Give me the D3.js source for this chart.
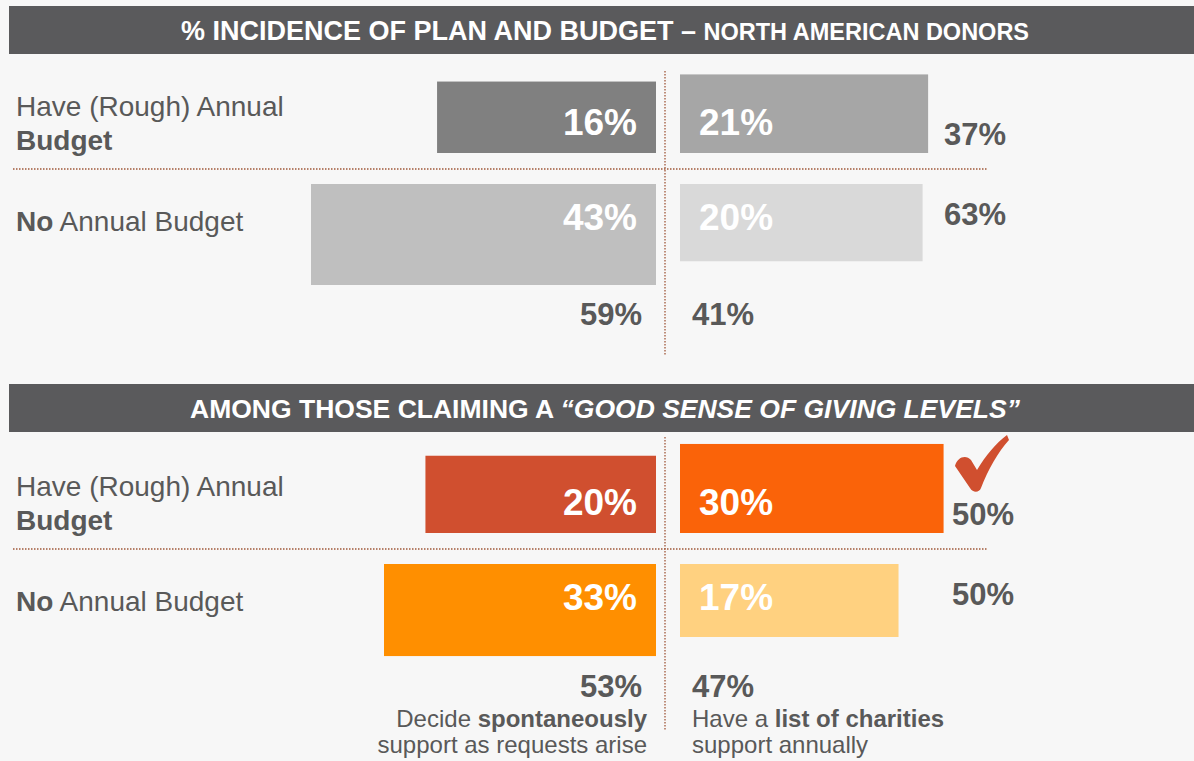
<!DOCTYPE html>
<html>
<head>
<meta charset="utf-8">
<script src="https://cdn.jsdelivr.net/npm/d3@7"></script>
<style>
  html, body { margin: 0; padding: 0; background: #f7f7f7; }
  svg { display: block; font-family: "Liberation Sans", Arial, sans-serif; }
</style>
</head>
<body>
<svg id="chart" width="1194" height="761"></svg>
<script>
// Rows: [Have (Rough) Annual Budget, No Annual Budget]
// Left column = decide spontaneously, right column = list of charities
const allSpontaneous = [16, 43];
const allList = [21, 20];
const goodSenseSpontaneous = [20, 33];
const goodSenseList = [30, 17];

const greyLeftColors = ["#808080", "#bfbfbf"];
const greyRightColors = ["#a6a6a6", "#d9d9d9"];
const orangeLeftColors = ["#d04f2f", "#ff8f00"];
const orangeRightColors = ["#fa6309", "#ffd180"];

const panels = [
  {
    titleParts: [
      { text: "% INCIDENCE OF PLAN AND BUDGET – ", size: 27, italic: false },
      { text: "NORTH AMERICAN DONORS", size: 23.5, italic: false }
    ],
    headerY: 6, sepY: 169, vTop: 71, vBottom: 356,
    left: allSpontaneous, right: allList,
    leftColors: greyLeftColors, rightColors: greyRightColors,
    widthExp: 0.46, widthMax: 345,
    rowTotalX: 944, colTotalY: 325, check: false
  },
  {
    titleParts: [
      { text: "AMONG THOSE CLAIMING A ", size: 26.5, italic: false },
      { text: "“GOOD SENSE OF GIVING LEVELS”", size: 26.5, italic: true }
    ],
    headerY: 384, sepY: 549, vTop: 437, vBottom: 730,
    left: goodSenseSpontaneous, right: goodSenseList,
    leftColors: orangeLeftColors, rightColors: orangeRightColors,
    widthExp: 0.33, widthMax: 272,
    rowTotalX: 952, colTotalY: 697, check: true
  }
];

const textColor = "#595959";
const dotColor = "#a0583a";
const centerX = 665;
const leftEdge = 656;
const rightEdge = 680;

const allValues = panels.flatMap(p => p.left.concat(p.right));
const hScale = d3.scalePow().exponent(0.35).domain([0, d3.max(allValues)]).range([0, 101]);

const svg = d3.select("#chart");
svg.append("rect").attr("width", 1194).attr("height", 761).attr("fill", "#f7f7f7");

panels.forEach(p => {
  const g = svg.append("g");
  const panelValues = p.left.concat(p.right);
  const wScale = d3.scalePow().exponent(p.widthExp)
    .domain([0, d3.max(panelValues)]).range([0, p.widthMax]);

  // header band
  g.append("rect").attr("x", 9).attr("y", p.headerY).attr("width", 1185).attr("height", 48)
    .attr("fill", "#5a5a5c");
  const title = g.append("text").attr("x", 605).attr("y", p.headerY + 34)
    .attr("text-anchor", "middle").attr("fill", "#fff").attr("font-weight", "bold");
  p.titleParts.forEach(t => {
    title.append("tspan").attr("font-size", t.size)
      .attr("font-style", t.italic ? "italic" : "normal").text(t.text);
  });

  // separators
  g.append("line").attr("x1", 13).attr("x2", 987).attr("y1", p.sepY).attr("y2", p.sepY)
    .attr("stroke", dotColor).attr("stroke-width", 1.3).attr("stroke-dasharray", "1.5,1.5");
  g.append("line").attr("x1", centerX).attr("x2", centerX).attr("y1", p.vTop).attr("y2", p.vBottom)
    .attr("stroke", dotColor).attr("stroke-width", 1.3).attr("stroke-dasharray", "1.5,1.5");

  // row labels
  g.append("text").attr("x", 16).attr("y", p.sepY - 53)
    .attr("font-size", 28).attr("fill", textColor).text("Have (Rough) Annual");
  g.append("text").attr("x", 16).attr("y", p.sepY - 19)
    .attr("font-size", 28).attr("font-weight", "bold").attr("fill", textColor).text("Budget");
  const l1 = g.append("text").attr("x", 16).attr("y", p.sepY + 62)
    .attr("font-size", 28).attr("fill", textColor);
  l1.append("tspan").attr("font-weight", "bold").text("No");
  l1.append("tspan").text(" Annual Budget");

  const rows = p.left.map((v, i) => ({ i, left: v, right: p.right[i] }));

  rows.forEach(r => {
    const hl = hScale(r.left), hr = hScale(r.right);
    const yl = r.i === 0 ? p.sepY - 16 - hl : p.sepY + 15;
    const yr = r.i === 0 ? p.sepY - 16 - hr : p.sepY + 15;
    const labelY = r.i === 0 ? p.sepY - 34 : p.sepY + 61;

    g.append("rect").attr("x", leftEdge - wScale(r.left)).attr("y", yl)
      .attr("width", wScale(r.left)).attr("height", hl).attr("fill", p.leftColors[r.i]);
    g.append("rect").attr("x", rightEdge).attr("y", yr)
      .attr("width", wScale(r.right)).attr("height", hr).attr("fill", p.rightColors[r.i]);

    g.append("text").attr("x", leftEdge - 19).attr("y", labelY).attr("text-anchor", "end")
      .attr("font-size", 37).attr("font-weight", "bold").attr("fill", "#fff").text(r.left + "%");
    g.append("text").attr("x", rightEdge + 19).attr("y", labelY)
      .attr("font-size", 37).attr("font-weight", "bold").attr("fill", "#fff").text(r.right + "%");

    // row total
    g.append("text").attr("x", p.rowTotalX).attr("y", r.i === 0 ? p.sepY - 24 : p.sepY + 56)
      .attr("font-size", 31).attr("font-weight", "bold").attr("fill", textColor)
      .text((r.left + r.right) + "%");
  });

  // column totals
  g.append("text").attr("x", 642).attr("y", p.colTotalY).attr("text-anchor", "end")
    .attr("font-size", 31).attr("font-weight", "bold").attr("fill", textColor)
    .text(d3.sum(p.left) + "%");
  g.append("text").attr("x", 692).attr("y", p.colTotalY)
    .attr("font-size", 31).attr("font-weight", "bold").attr("fill", textColor)
    .text(d3.sum(p.right) + "%");

  if (p.check) {
    g.append("path")
      .attr("d", "M955,466 C957,457 966,454 971,460 L977,470 C986,455 996,443 1007,435 L1009,440 C998,452 988,470 981,488 C979,493 973,493 970,488 Z")
      .attr("fill", "#d04f2f");
  }
});

// column captions
const cap = svg.append("g").attr("font-size", 24).attr("fill", textColor);
const c1 = cap.append("text").attr("x", 647).attr("y", 727).attr("text-anchor", "end");
c1.append("tspan").text("Decide ");
c1.append("tspan").attr("font-weight", "bold").text("spontaneously");
cap.append("text").attr("x", 647).attr("y", 753).attr("text-anchor", "end").text("support as requests arise");
const c2 = cap.append("text").attr("x", 692).attr("y", 727);
c2.append("tspan").text("Have a ");
c2.append("tspan").attr("font-weight", "bold").text("list of charities");
cap.append("text").attr("x", 692).attr("y", 753).text("support annually");
</script>
</body>
</html>
